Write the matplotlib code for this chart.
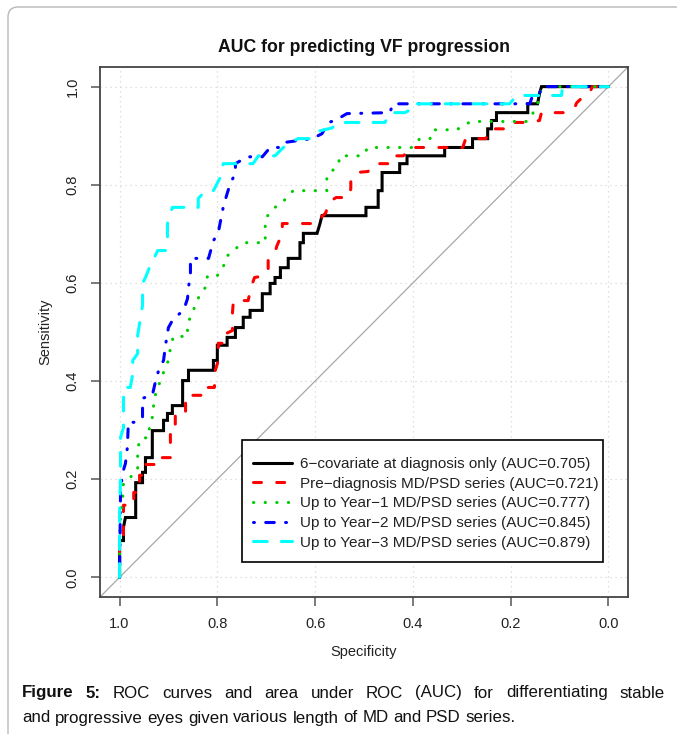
import numpy as np
import matplotlib
matplotlib.use('Agg')
from matplotlib import pyplot as plt
from matplotlib.patches import FancyBboxPatch, Rectangle

plt.rcParams['font.family'] = ['Liberation Sans', 'DejaVu Sans']

# ROC vertices: (specificity, sensitivity)
black_roc = [(1.000, 0.000), (1.000, 0.075), (0.992, 0.075), (0.992, 0.102), (0.988, 0.122), (0.967, 0.122),
             (0.967, 0.193), (0.953, 0.193), (0.953, 0.214), (0.947, 0.214), (0.947, 0.244), (0.933, 0.244),
             (0.933, 0.299), (0.910, 0.299), (0.910, 0.320), (0.902, 0.320), (0.902, 0.334), (0.892, 0.334),
             (0.892, 0.350), (0.871, 0.350), (0.871, 0.401), (0.859, 0.401), (0.859, 0.422), (0.808, 0.422),
             (0.808, 0.442), (0.800, 0.442), (0.800, 0.473), (0.780, 0.473), (0.780, 0.489), (0.763, 0.489),
             (0.763, 0.509), (0.747, 0.509), (0.747, 0.530), (0.733, 0.530), (0.733, 0.544), (0.708, 0.544),
             (0.708, 0.578), (0.692, 0.578), (0.692, 0.599), (0.682, 0.599), (0.682, 0.611), (0.671, 0.611),
             (0.671, 0.631), (0.655, 0.631), (0.655, 0.650), (0.631, 0.650), (0.631, 0.682), (0.624, 0.682),
             (0.624, 0.701), (0.596, 0.701), (0.590, 0.721), (0.586, 0.737), (0.496, 0.737), (0.496, 0.754),
             (0.471, 0.754), (0.471, 0.788), (0.463, 0.788), (0.463, 0.825), (0.427, 0.825), (0.427, 0.843),
             (0.412, 0.843), (0.412, 0.859), (0.335, 0.859), (0.335, 0.876), (0.278, 0.876), (0.278, 0.894),
             (0.247, 0.894), (0.247, 0.914), (0.239, 0.914), (0.239, 0.931), (0.229, 0.931), (0.229, 0.947),
             (0.165, 0.947), (0.165, 0.965), (0.145, 0.965), (0.141, 0.986), (0.137, 1.000), (0.000, 1.000)]

red_roc = [(1.000, 0.000), (1.000, 0.065), (0.992, 0.065), (0.992, 0.147), (0.971, 0.147), (0.971, 0.173),
           (0.959, 0.173), (0.959, 0.208), (0.951, 0.208), (0.951, 0.230), (0.920, 0.230), (0.920, 0.244),
           (0.896, 0.244), (0.896, 0.293), (0.886, 0.293), (0.886, 0.334), (0.865, 0.334), (0.865, 0.360),
           (0.857, 0.360), (0.857, 0.371), (0.829, 0.371), (0.829, 0.387), (0.806, 0.387), (0.804, 0.422),
           (0.798, 0.442), (0.798, 0.477), (0.782, 0.477), (0.782, 0.497), (0.769, 0.503), (0.769, 0.540),
           (0.767, 0.564), (0.737, 0.564), (0.731, 0.591), (0.724, 0.611), (0.702, 0.615), (0.696, 0.629),
           (0.696, 0.650), (0.682, 0.662), (0.678, 0.676), (0.667, 0.701), (0.667, 0.721), (0.594, 0.721),
           (0.590, 0.731), (0.578, 0.743), (0.573, 0.764), (0.557, 0.774), (0.531, 0.774), (0.527, 0.792),
           (0.527, 0.809), (0.516, 0.825), (0.492, 0.827), (0.480, 0.843), (0.451, 0.843), (0.447, 0.859),
           (0.420, 0.859), (0.410, 0.866), (0.406, 0.876), (0.298, 0.876), (0.292, 0.894), (0.251, 0.894),
           (0.245, 0.906), (0.243, 0.914), (0.200, 0.914), (0.192, 0.927), (0.163, 0.927), (0.141, 0.931),
           (0.137, 0.947), (0.084, 0.947), (0.069, 0.957), (0.065, 0.967), (0.049, 0.982), (0.039, 0.986),
           (0.033, 1.000), (0.000, 1.000)]

green_roc = [(1.000, 0.000), (1.000, 0.069), (0.998, 0.132), (0.994, 0.153), (0.992, 0.193), (0.978, 0.204),
             (0.963, 0.218), (0.963, 0.263), (0.957, 0.283), (0.941, 0.285), (0.939, 0.303), (0.933, 0.326),
             (0.931, 0.346), (0.927, 0.371), (0.920, 0.391), (0.910, 0.418), (0.902, 0.436), (0.896, 0.466),
             (0.890, 0.491), (0.861, 0.491), (0.861, 0.517), (0.855, 0.530), (0.841, 0.564), (0.835, 0.578),
             (0.824, 0.591), (0.820, 0.615), (0.800, 0.615), (0.788, 0.631), (0.784, 0.650), (0.773, 0.662),
             (0.747, 0.682), (0.702, 0.682), (0.702, 0.731), (0.692, 0.743), (0.682, 0.754), (0.667, 0.764),
             (0.645, 0.788), (0.576, 0.788), (0.576, 0.819), (0.553, 0.839), (0.549, 0.859), (0.502, 0.859),
             (0.492, 0.876), (0.400, 0.876), (0.386, 0.894), (0.365, 0.894), (0.359, 0.912), (0.310, 0.912),
             (0.298, 0.921), (0.280, 0.929), (0.165, 0.929), (0.155, 0.945), (0.147, 0.961), (0.141, 0.976),
             (0.137, 1.000), (0.000, 1.000)]

blue_roc = [(1.000, 0.000), (0.998, 0.177), (0.994, 0.212), (0.988, 0.232), (0.984, 0.265), (0.982, 0.316),
            (0.963, 0.316), (0.953, 0.326), (0.953, 0.365), (0.933, 0.371), (0.927, 0.397), (0.920, 0.422),
            (0.910, 0.442), (0.906, 0.473), (0.902, 0.497), (0.900, 0.509), (0.890, 0.527), (0.869, 0.544),
            (0.861, 0.568), (0.859, 0.591), (0.855, 0.619), (0.855, 0.650), (0.818, 0.650), (0.808, 0.686),
            (0.798, 0.703), (0.788, 0.754), (0.780, 0.782), (0.773, 0.804), (0.763, 0.823), (0.763, 0.843),
            (0.739, 0.857), (0.708, 0.857), (0.692, 0.876), (0.671, 0.876), (0.665, 0.886), (0.635, 0.890),
            (0.606, 0.894), (0.586, 0.904), (0.573, 0.927), (0.559, 0.931), (0.535, 0.945), (0.447, 0.947),
            (0.441, 0.965), (0.161, 0.965), (0.155, 0.982), (0.141, 0.986), (0.137, 1.000), (0.000, 1.000)]

cyan_roc = [(1.000, 0.000), (1.000, 0.122), (0.998, 0.204), (0.998, 0.285), (0.992, 0.305), (0.992, 0.387),
            (0.978, 0.387), (0.973, 0.415), (0.973, 0.442), (0.963, 0.456), (0.963, 0.493), (0.953, 0.554),
            (0.953, 0.599), (0.947, 0.611), (0.939, 0.631), (0.922, 0.666), (0.906, 0.666), (0.902, 0.686),
            (0.902, 0.721), (0.892, 0.754), (0.839, 0.754), (0.839, 0.772), (0.824, 0.788), (0.808, 0.788),
            (0.794, 0.815), (0.788, 0.843), (0.727, 0.843), (0.716, 0.859), (0.682, 0.859), (0.665, 0.876),
            (0.651, 0.886), (0.635, 0.894), (0.606, 0.894), (0.590, 0.910), (0.565, 0.916), (0.553, 0.927),
            (0.457, 0.927), (0.447, 0.947), (0.416, 0.947), (0.402, 0.955), (0.400, 0.965), (0.202, 0.965),
            (0.188, 0.982), (0.096, 0.982), (0.094, 1.000), (0.000, 1.000)]

labels = ['6\u2212covariate at diagnosis only (AUC=0.705)',
          'Pre\u2212diagnosis MD/PSD series (AUC=0.721)',
          'Up to Year\u22121 MD/PSD series (AUC=0.777)',
          'Up to Year\u22122 MD/PSD series (AUC=0.845)',
          'Up to Year\u22123 MD/PSD series (AUC=0.879)']
colors = ['black', '#ff0000', '#00cd00', '#0000ff', '#00ffff']
dashes = [None, (2.6, 5.0), (0.1, 3.7), (0.3, 3.7, 2.8, 3.7), (4.5, 4.6)]

ticks = [0.0, 0.2, 0.4, 0.6, 0.8, 1.0]
tick_labels = ['0.0', '0.2', '0.4', '0.6', '0.8', '1.0']

W, H = 677, 734
fig = plt.figure(figsize=(W / 100, H / 100), dpi=100)
fig.patch.set_facecolor('white')

# page frame (rounded top-left corner)
frame = FancyBboxPatch((8, -30), 720, H - 7 + 30, boxstyle='round,pad=0,rounding_size=10',
                       transform=None, fc='none', ec='#b8b8b8', lw=1.0)
fig.patches.append(frame)

ax = fig.add_axes([100 / W, 1 - 597 / H, 528 / W, 530 / H])
ax.set_xlim(1.04, -0.04)
ax.set_ylim(-0.04, 1.04)

for t in ticks:
    ax.axvline(t, color='#d6d6d6', lw=0.9, ls=(0, (1, 3)), zorder=0)
    ax.axhline(t, color='#d6d6d6', lw=0.9, ls=(0, (1, 3)), zorder=0)

ax.plot([1.04, -0.04], [-0.04, 1.04], color='#a8a8a8', lw=0.9, zorder=1)

for roc, lab, col, dash in zip([black_roc, red_roc, green_roc, blue_roc, cyan_roc], labels, colors, dashes):
    pts = np.array(roc)
    ln, = ax.plot(pts[:, 0], pts[:, 1], color=col, lw=2.2, label=lab, zorder=3,
                  solid_capstyle='round', dash_capstyle='round', solid_joinstyle='miter')
    if dash is not None:
        ln.set_dashes(dash)

ax.set_xticks(ticks)
ax.set_xticklabels(tick_labels)
ax.set_yticks(ticks)
ax.set_yticklabels(tick_labels)
ax.tick_params(direction='out', length=6.5, width=1.1, color='#555555', pad=8,
               labelsize=10.5, labelcolor='#222222')
for lab in ax.get_yticklabels():
    lab.set_rotation(90)
    lab.set_va('center')
for sp in ax.spines.values():
    sp.set_color('#444444')
    sp.set_linewidth(1.3)

# legend without its own frame, boxed separately like R's legend()
leg = ax.legend(loc='upper left', bbox_to_anchor=(238 / W, 1 - 442.5 / H), bbox_transform=fig.transFigure,
                fontsize=11, frameon=False, handlelength=2.6, handletextpad=0.52, labelspacing=0.37,
                borderpad=0.95, borderaxespad=0)
for txt in leg.get_texts():
    txt.set_color('#222222')
leg.set_zorder(5)
box = Rectangle((242, H - 562), 361, 122, transform=None, fc='white', ec='black', lw=1.2, zorder=4)
ax.add_patch(box)

fig.text(364 / W, 1 - 47 / H, 'AUC for predicting VF progression', ha='center', va='center',
         weight='bold', size=12.7, color='#111111')
fig.text(364 / W, 1 - 652 / H, 'Specificity', ha='center', va='center', size=10.5, color='#222222')
fig.text(45 / W, 1 - 332 / H, 'Sensitivity', ha='center', va='center', size=10.5, color='#222222',
         rotation=90)

# caption, first line justified
line1 = [('Figure', True), ('5:', True)] + [(w, False) for w in
         'ROC curves and area under ROC (AUC) for differentiating stable'.split()]
line2 = [(w, False) for w in 'and progressive eyes given various length of MD and PSD series.'.split()]
renderer = fig.canvas.get_renderer()


def put_line(words, ypx, justify, size=12.2):
    arts = [fig.text(0, 1 - ypx / H, w, size=size, weight='bold' if b else 'normal', ha='left',
                     va='center', color='#111111') for w, b in words]
    widths = [renderer.get_text_width_height_descent(w, a.get_fontproperties(), ismath=False)[0]
              for a, (w, b) in zip(arts, words)]
    left, right = 22, 665
    gap = (right - left - sum(widths)) / (len(arts) - 1) if justify else 4.6
    x = left
    for a, w in zip(arts, widths):
        a.set_x(x / W)
        x += w + gap


put_line(line1, 693, True)
put_line(line2, 718, False)

fig.savefig('out.png', dpi=100)
